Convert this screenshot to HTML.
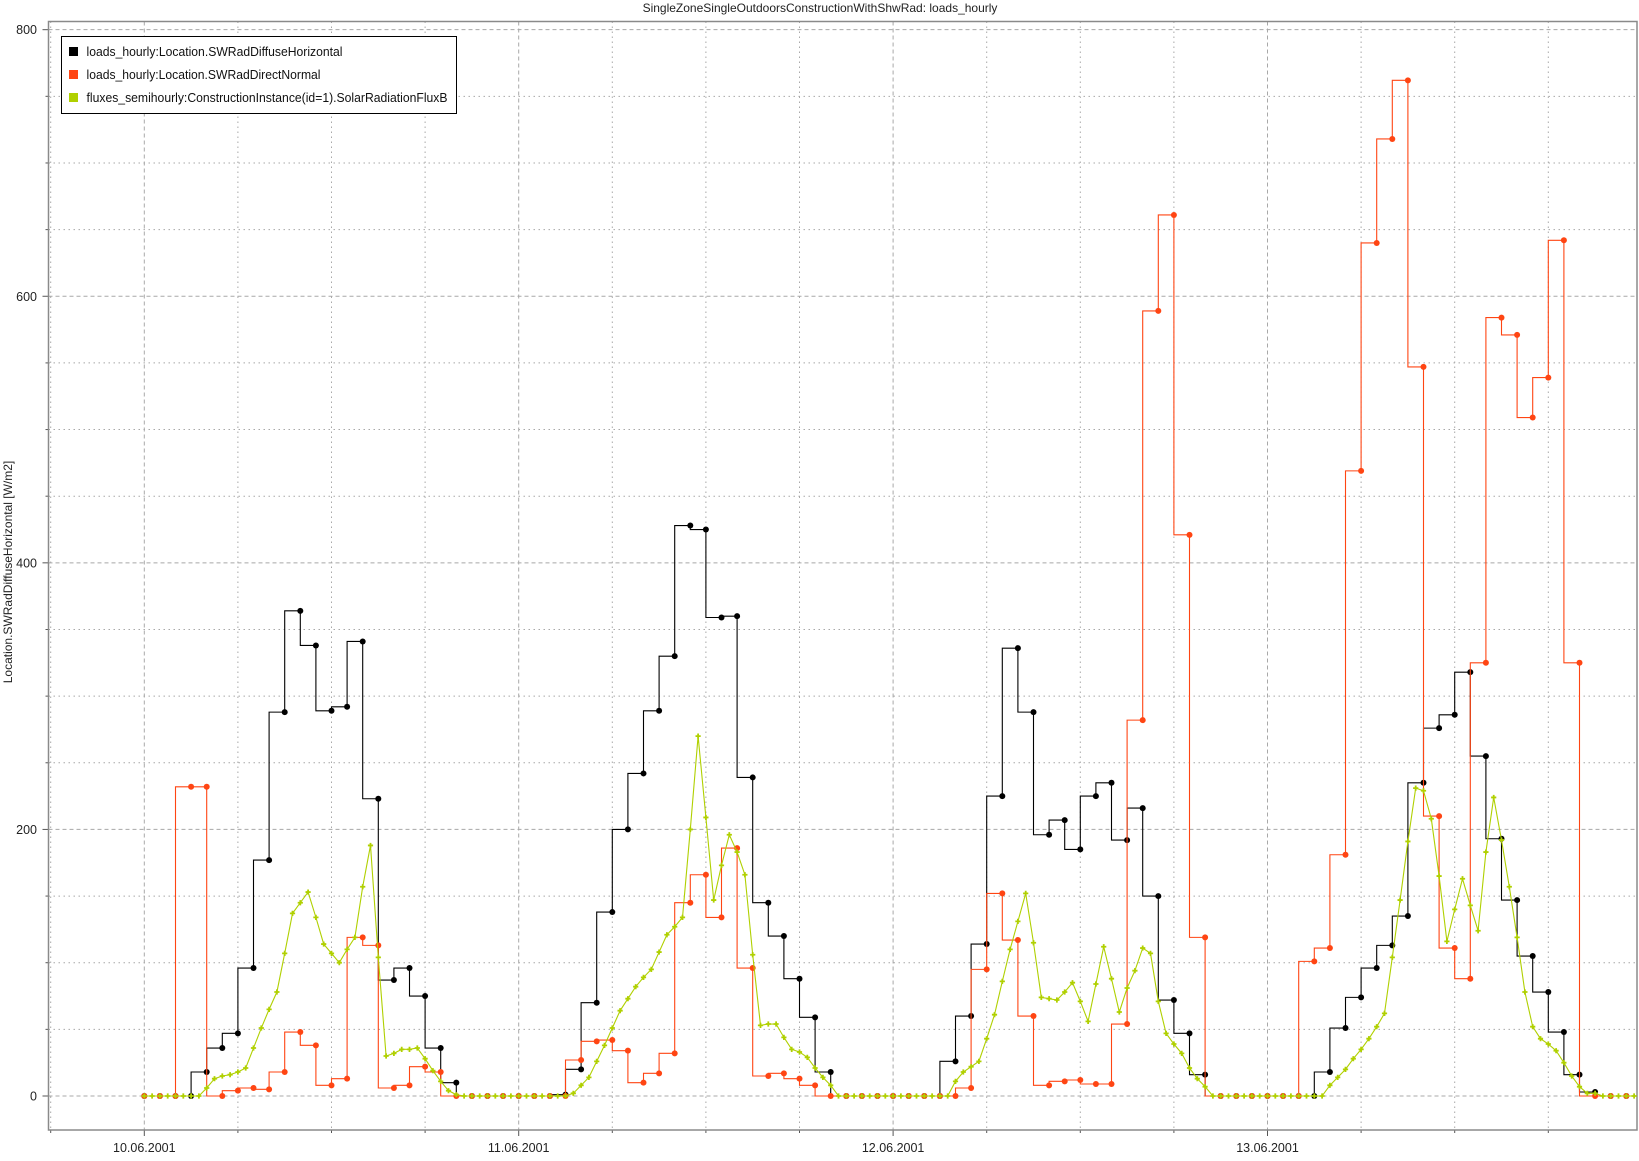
<!DOCTYPE html>
<html><head><meta charset="utf-8">
<style>
html,body{margin:0;padding:0;background:#fff;}
svg{display:block;font-family:"Liberation Sans",sans-serif;}
</style></head>
<body>
<svg id="chart" width="1639" height="1161" viewBox="0 0 1639 1161" xmlns="http://www.w3.org/2000/svg">
<rect x="0" y="0" width="1639" height="1161" fill="#fff"/>
<text x="820" y="12" font-size="12" text-anchor="middle" fill="#222">SingleZoneSingleOutdoorsConstructionWithShwRad: loads_hourly</text>
<text transform="translate(12,572) rotate(-90)" font-size="12" text-anchor="middle" fill="#222">Location.SWRadDiffuseHorizontal [W/m2]</text>
<g id="grid"></g>
<g id="axes"></g>
<g id="series"></g>
<g>
<rect x="61.5" y="36.5" width="395" height="77" fill="#fff" stroke="#000" stroke-width="1"/>
<rect x="69" y="47" width="9" height="9" fill="#000"/>
<text x="86.5" y="56" font-size="12.5" textLength="256" lengthAdjust="spacingAndGlyphs" fill="#111">loads_hourly:Location.SWRadDiffuseHorizontal</text>
<rect x="69" y="70" width="9" height="9" fill="#ff4513"/>
<text x="86.5" y="79" font-size="12.5" textLength="234" lengthAdjust="spacingAndGlyphs" fill="#111">loads_hourly:Location.SWRadDirectNormal</text>
<rect x="69" y="93" width="9" height="9" fill="#b0d000"/>
<text x="86.5" y="102" font-size="12.5" textLength="361" lengthAdjust="spacingAndGlyphs" fill="#111">fluxes_semihourly:ConstructionInstance(id=1).SolarRadiationFluxB</text>
</g>
</svg>
<script>
const dayLabels = ["10.06.2001","11.06.2001","12.06.2001","13.06.2001"];
const yTickLabels = [0,200,400,600,800];
const diffuseValues = [
0,0,0,0,18,36,47,96,177,288,364,338,289,292,341,223,87,96,75,36,10,0,0,0,
0,0,0,1,20,70,138,200,242,289,330,428,425,359,360,239,145,120,88,59,18,0,0,0,
0,0,0,0,26,60,114,225,336,288,196,207,185,225,235,192,216,150,72,47,16,0,0,0,
0,0,0,0,18,51,74,96,113,135,235,276,286,318,255,193,147,105,78,48,16,3,0,0];
const directValues = [
0,0,0,232,232,0,4,6,5,18,48,38,8,13,119,113,6,8,22,18,0,0,0,0,
0,0,0,0,27,41,42,34,10,17,32,145,166,134,186,96,15,17,13,8,0,0,0,0,
0,0,0,0,0,6,95,152,117,60,8,11,12,9,9,54,282,589,661,421,119,0,0,0,
0,0,0,101,111,181,469,640,718,762,547,210,111,88,325,584,571,509,539,642,325,0,0,0];
const fluxValues = [
0,0,0,0,0,0,0,0,6,13,15,16,18,21,36,51,65,78,107,137,145,153,134,114,107,100,110,119,157,188,104,30,32,35,35,36,28,19,11,4,1,0,0,0,0,0,0,0,
0,0,0,0,0,0,0,2,8,14,26,38,51,64,73,82,89,95,108,121,127,134,200,270,209,147,173,196,183,166,106,53,54,54,44,35,33,29,21,14,8,0,0,0,0,0,0,0,
0,0,0,0,0,0,0,0,11,18,22,26,43,61,86,110,131,152,115,74,73,72,78,85,71,56,84,112,88,63,81,94,111,107,71,47,39,32,21,13,7,0,0,0,0,0,0,0,
0,0,0,0,0,0,0,0,8,14,20,28,35,43,52,62,104,147,191,231,229,208,165,116,140,163,143,124,183,224,192,157,119,78,52,43,39,34,25,15,7,2,2,0,0,0,0,0];

const NS = "http://www.w3.org/2000/svg";
const L = 48.5, R = 1637, T = 21.5, B = 1130;
function xOf(h){ return 144.3 + 15.6*h; }
function yOf(v){ return 1096 - v*1.3329; }
function mk(tag, attrs, parent){
  const e = document.createElementNS(NS, tag);
  for (const k in attrs) e.setAttribute(k, attrs[k]);
  parent.appendChild(e); return e;
}
const grid = document.getElementById('grid');
const axes = document.getElementById('axes');
const series = document.getElementById('series');

for (let v = 0; v <= 800; v += 50) {
  const y = yOf(v), major = v % 200 === 0;
  const g = mk('line', {x1:L, x2:R, y1:y, y2:y, stroke:'#a8a8a8', 'stroke-width':1, 'stroke-dasharray': major ? '4,3' : '1.5,3.5'}, grid);
  
  
  const t = mk('line', {x1:L - (major?6:3), x2:L, y1:y, y2:y, stroke:'#555', 'stroke-width':1}, axes);
  
  
}
yTickLabels.forEach(v => {
  const t = mk('text', {x:37, y:yOf(v)+4.5, 'font-size':12.5, 'text-anchor':'end', fill:'#222'}, axes);
  t.textContent = v;
  
  
});
for (let h = -6; h <= 96; h += 6) {
  const x = xOf(h); if (x < L || x > R) continue;
  const major = h % 24 === 0;
  const g = mk('line', {x1:x, x2:x, y1:T, y2:B, stroke:'#a8a8a8', 'stroke-width':1, 'stroke-dasharray': major ? '4,3' : '1.5,3.5'}, grid);
  
  
  const t = mk('line', {x1:x, x2:x, y1:B, y2:B + (major?6:3), stroke:'#555', 'stroke-width':1}, axes);
  
  
}
dayLabels.forEach((d, i) => {
  const t = mk('text', {x:xOf(i*24), y:1152, 'font-size':12.5, 'text-anchor':'middle', fill:'#222'}, axes);
  t.textContent = d;
  
  
});
const frame = mk('rect', {x:L, y:T, width:R-L, height:B-T, fill:'none', stroke:'#8a8a8a', 'stroke-width':1.5}, axes);



function stepSeries(vals, color, name){
  let d = 'M' + xOf(0) + ',' + yOf(vals[0]);
  for (let i = 1; i < vals.length; i++) {
    d += ' V' + yOf(vals[i]).toFixed(2) + ' H' + xOf(i).toFixed(2);
  }
  const p = mk('path', {d:d, fill:'none', stroke:color, 'stroke-width':1.1}, series);
  
  
  vals.forEach((v, i) => {
    const c = mk('circle', {cx:xOf(i), cy:yOf(v), r:3, fill:color}, series);
    
    
  });
}
stepSeries(diffuseValues, '#000', 'diffuse');
stepSeries(directValues, '#ff4513', 'direct');

(function(){
  const col = '#b0d000';
  const pts = fluxValues.map((v, i) => xOf(i/2).toFixed(2) + ',' + yOf(v).toFixed(2)).join(' ');
  const p = mk('polyline', {points:pts, fill:'none', stroke:col, 'stroke-width':1.1}, series);
  
  
  fluxValues.forEach((v, i) => {
    const x = xOf(i/2), y = yOf(v);
    const m = mk('path', {d:'M'+(x-2.6)+','+y+' H'+(x+2.6)+' M'+x+','+(y-2.6)+' V'+(y+2.6), stroke:col, 'stroke-width':1.8}, series);
    
    
  });
})();
</script>
</body></html>
